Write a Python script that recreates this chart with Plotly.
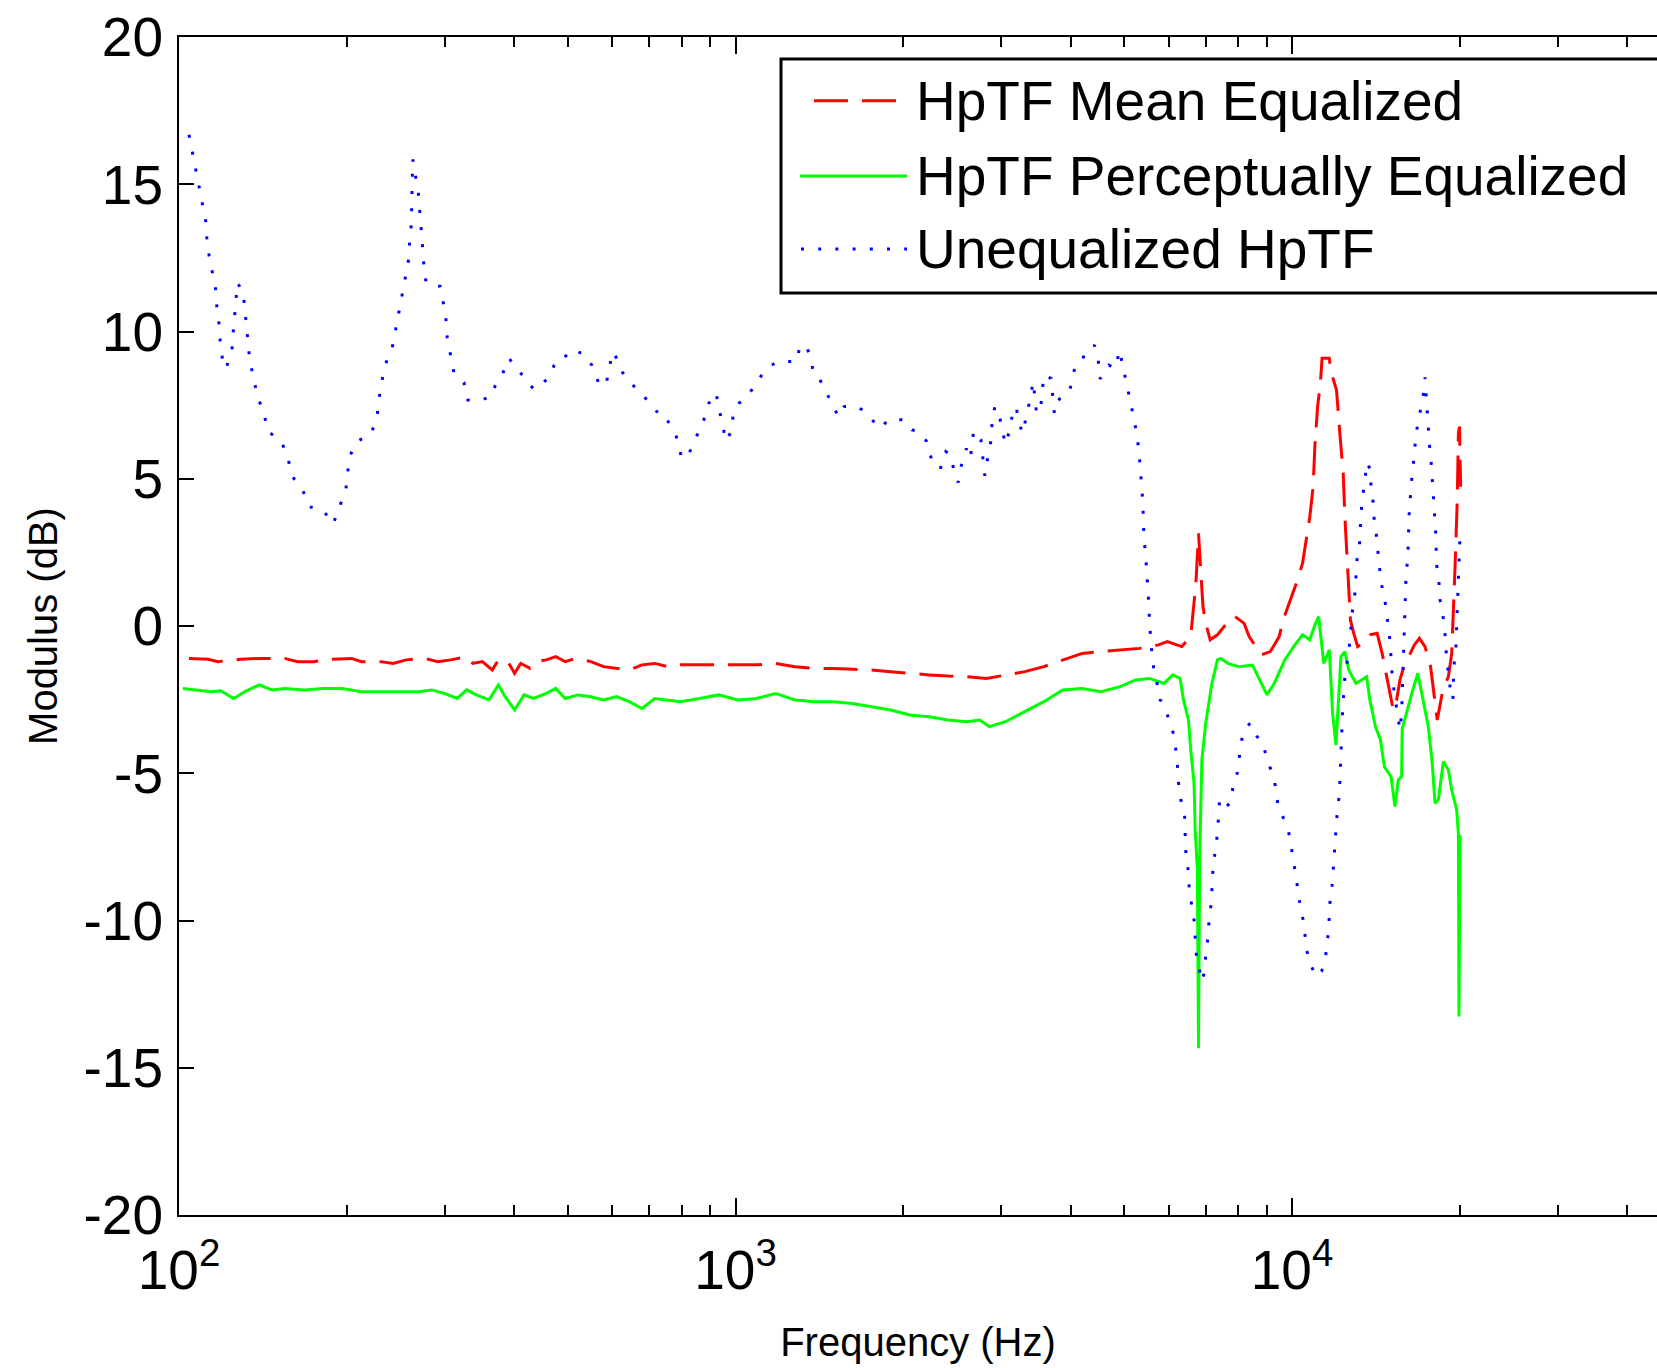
import numpy as np
import plotly.graph_objects as go

# ---------------- data ----------------
# frequencies stored as log10(Hz), converted to Hz below
mean_eq_logf = [2.018, 2.053, 2.070, 2.110, 2.144, 2.190, 2.213, 2.242, 2.276, 2.310, 2.328, 2.362, 2.385, 2.408,
                2.442, 2.465, 2.488, 2.517, 2.528, 2.545, 2.563, 2.574, 2.591, 2.603, 2.614, 2.631, 2.643, 2.660,
                2.677, 2.694, 2.712, 2.740, 2.763, 2.786, 2.809, 2.832, 2.855, 2.878, 2.901, 2.935, 2.970, 3.004,
                3.038, 3.072, 3.107, 3.141, 3.176, 3.210, 3.244, 3.279, 3.313, 3.348, 3.382, 3.416, 3.451, 3.485,
                3.520, 3.554, 3.588, 3.623, 3.657, 3.691, 3.726, 3.760, 3.776, 3.802, 3.818, 3.822, 3.827, 3.832,
                3.837, 3.840, 3.845, 3.853, 3.866, 3.878, 3.896, 3.914, 3.923, 3.933, 3.945, 3.961, 3.977, 3.984,
                4.000, 4.009, 4.019, 4.025, 4.032, 4.038, 4.041, 4.046, 4.051, 4.054, 4.067, 4.070, 4.080, 4.086,
                4.092, 4.095, 4.099, 4.102, 4.105, 4.111, 4.118, 4.127, 4.140, 4.153, 4.162, 4.169, 4.175, 4.182,
                4.188, 4.194, 4.201, 4.210, 4.220, 4.229, 4.239, 4.249, 4.255, 4.261, 4.271, 4.281, 4.287, 4.290,
                4.293, 4.297, 4.299, 4.301, 4.303]
mean_eq_db = [-1.10, -1.13, -1.21, -1.13, -1.10, -1.10, -1.21, -1.21, -1.13, -1.10, -1.21, -1.21, -1.27, -1.15,
              -1.10, -1.21, -1.15, -1.04, -1.27, -1.21, -1.49, -1.15, -1.21, -1.61, -1.27, -1.44, -1.21, -1.15,
              -1.04, -1.21, -1.10, -1.21, -1.38, -1.44, -1.49, -1.32, -1.27, -1.38, -1.32, -1.32, -1.32, -1.32,
              -1.32, -1.27, -1.38, -1.44, -1.44, -1.47, -1.49, -1.55, -1.61, -1.66, -1.70, -1.72, -1.78, -1.66,
              -1.55, -1.38, -1.15, -0.93, -0.87, -0.81, -0.76, -0.64, -0.53, -0.70, -0.36, 0.43, 1.34, 3.15,
              1.68, 0.66, 0.09, -0.47, -0.30, -0.02, 0.34, 0.09, -0.36, -0.64, -0.98, -0.87, -0.36, 0.20,
              1.00, 1.51, 2.13, 2.86, 3.71, 4.73, 6.09, 7.45, 8.24, 9.09, 9.09, 8.64, 8.01, 6.54,
              5.18, 3.71, 2.47, 1.45, 0.20, -0.25, -0.70, -0.59, -0.30, -0.25, -0.93, -1.61, -2.17, -2.85,
              -2.51, -1.83, -1.38, -1.04, -0.64, -0.42, -0.70, -1.38, -2.29, -3.19, -2.17, -1.72, -0.93, 0.32,
              2.02, 4.28, 6.54, 6.77, 4.73]

percep_eq_logf = [2.007, 2.035, 2.058, 2.075, 2.098, 2.121, 2.144, 2.167, 2.190, 2.225, 2.259, 2.293, 2.328, 2.362,
                  2.396, 2.431, 2.454, 2.477, 2.500, 2.517, 2.534, 2.557, 2.574, 2.586, 2.603, 2.620, 2.637, 2.660,
                  2.677, 2.694, 2.717, 2.740, 2.763, 2.786, 2.809, 2.832, 2.855, 2.878, 2.901, 2.935, 2.970, 3.004,
                  3.038, 3.072, 3.107, 3.141, 3.176, 3.210, 3.244, 3.279, 3.313, 3.348, 3.382, 3.416, 3.439, 3.456,
                  3.485, 3.520, 3.554, 3.588, 3.623, 3.657, 3.691, 3.719, 3.744, 3.770, 3.786, 3.799, 3.805, 3.814,
                  3.818, 3.824, 3.826, 3.830, 3.832, 3.834, 3.838, 3.845, 3.856, 3.866, 3.872, 3.885, 3.904, 3.929,
                  3.942, 3.955, 3.968, 3.987, 4.003, 4.019, 4.032, 4.041, 4.048, 4.051, 4.057, 4.067, 4.073, 4.079,
                  4.084, 4.088, 4.095, 4.102, 4.115, 4.124, 4.134, 4.140, 4.150, 4.159, 4.166, 4.178, 4.185, 4.191,
                  4.197, 4.198, 4.207, 4.217, 4.226, 4.236, 4.245, 4.252, 4.257, 4.263, 4.272, 4.281, 4.287, 4.296,
                  4.299, 4.300, 4.301, 4.302]
percep_eq_db = [-2.12, -2.17, -2.23, -2.20, -2.46, -2.20, -2.00, -2.17, -2.12, -2.17, -2.12, -2.12, -2.23, -2.23,
                -2.23, -2.23, -2.17, -2.29, -2.46, -2.17, -2.34, -2.51, -2.00, -2.40, -2.85, -2.34, -2.46, -2.29,
                -2.12, -2.46, -2.34, -2.40, -2.51, -2.40, -2.57, -2.80, -2.46, -2.51, -2.57, -2.46, -2.34, -2.51,
                -2.46, -2.29, -2.51, -2.57, -2.57, -2.63, -2.74, -2.85, -3.02, -3.08, -3.19, -3.25, -3.19, -3.42,
                -3.25, -2.91, -2.57, -2.17, -2.12, -2.23, -2.06, -1.83, -1.78, -1.95, -1.66, -1.78, -2.51, -3.19,
                -4.21, -5.34, -6.92, -8.28, -14.34, -8.00, -4.55, -3.30, -1.95, -1.15, -1.10, -1.27, -1.38, -1.33,
                -1.83, -2.34, -1.95, -1.15, -0.70, -0.30, -0.47, 0.03, 0.32, -0.25, -1.27, -0.81, -2.97, -4.04,
                -2.51, -1.04, -0.87, -1.49, -1.95, -1.83, -1.72, -2.51, -3.42, -3.87, -4.78, -5.12, -6.13, -5.23,
                -5.11, -3.50, -2.85, -2.17, -1.61, -2.63, -3.42, -4.66, -6.02, -5.90, -4.60, -4.89, -5.57, -6.25,
                -7.04, -13.26, -11.30, -7.10]

uneq_logf = [2.018, 2.024, 2.030, 2.036, 2.042, 2.048, 2.050, 2.054, 2.060, 2.066, 2.068, 2.072, 2.074, 2.078,
             2.084, 2.095, 2.097, 2.100, 2.102, 2.105, 2.116, 2.118, 2.122, 2.124, 2.128, 2.135, 2.141, 2.153,
             2.159, 2.184, 2.196, 2.203, 2.222, 2.234, 2.259, 2.277, 2.289, 2.300, 2.303, 2.308, 2.320, 2.345,
             2.356, 2.359, 2.364, 2.370, 2.383, 2.389, 2.395, 2.401, 2.407, 2.412, 2.414, 2.417, 2.418, 2.419,
             2.4195, 2.420, 2.426, 2.431, 2.433, 2.436, 2.438, 2.440, 2.444, 2.456, 2.469, 2.475, 2.480, 2.482,
             2.488, 2.494, 2.512, 2.519, 2.543, 2.562, 2.568, 2.580, 2.593, 2.606, 2.624, 2.637, 2.649, 2.667,
             2.674, 2.686, 2.692, 2.704, 2.717, 2.730, 2.742, 2.754, 2.767, 2.773, 2.779, 2.791, 2.797, 2.822,
             2.828, 2.848, 2.861, 2.870, 2.889, 2.897, 2.903, 2.915, 2.927, 2.934, 2.943, 2.952, 2.965, 2.971,
             2.977, 2.983, 2.993, 2.996, 3.006, 3.021, 3.034, 3.053, 3.065, 3.078, 3.084, 3.110, 3.116, 3.129,
             3.135, 3.141, 3.151, 3.160, 3.166, 3.176, 3.185, 3.195, 3.214, 3.226, 3.239, 3.261, 3.274, 3.286,
             3.299, 3.305, 3.317, 3.328, 3.343, 3.352, 3.368, 3.378, 3.387, 3.393, 3.400, 3.406, 3.415, 3.422,
             3.428, 3.441, 3.448, 3.453, 3.459, 3.461, 3.466, 3.472, 3.478, 3.485, 3.491, 3.497, 3.504, 3.510,
             3.516, 3.523, 3.529, 3.535, 3.541, 3.548, 3.554, 3.567, 3.573, 3.577, 3.589, 3.601, 3.608, 3.614,
             3.620, 3.633, 3.645, 3.652, 3.655, 3.671, 3.683, 3.690, 3.696, 3.702, 3.709, 3.715, 3.721, 3.725,
             3.728, 3.730, 3.732, 3.733, 3.734, 3.737, 3.739, 3.742, 3.743, 3.744, 3.746, 3.749, 3.752, 3.757,
             3.763, 3.772, 3.781, 3.786, 3.790, 3.794, 3.796, 3.800, 3.807, 3.808, 3.809, 3.813, 3.815, 3.819,
             3.824, 3.826, 3.828, 3.832, 3.838, 3.843, 3.845, 3.849, 3.851, 3.855, 3.856, 3.858, 3.862, 3.866,
             3.868, 3.870, 3.881, 3.891, 3.894, 3.899, 3.904, 3.907, 3.913, 3.925, 3.937, 3.948, 3.955, 3.966,
             3.971, 3.975, 3.990, 3.998, 4.001, 4.008, 4.011, 4.017, 4.023, 4.026, 4.035, 4.043, 4.053, 4.060,
             4.062, 4.066, 4.067, 4.069, 4.072, 4.074, 4.077, 4.079, 4.080, 4.082, 4.085, 4.086, 4.087, 4.089,
             4.090, 4.091, 4.093, 4.095, 4.100, 4.104, 4.108, 4.113, 4.115, 4.117, 4.121, 4.122, 4.124, 4.127,
             4.131, 4.135, 4.140, 4.142, 4.146, 4.148, 4.153, 4.155, 4.161, 4.166, 4.170, 4.172, 4.176, 4.178,
             4.180, 4.184, 4.190, 4.194, 4.197, 4.198, 4.199, 4.200, 4.201, 4.202, 4.203, 4.204, 4.205, 4.208,
             4.209, 4.210, 4.211, 4.214, 4.216, 4.220, 4.222, 4.228, 4.235, 4.239, 4.241, 4.243, 4.245, 4.247,
             4.250, 4.252, 4.255, 4.257, 4.258, 4.259, 4.260, 4.264, 4.266, 4.270, 4.272, 4.274, 4.276, 4.278,
             4.283, 4.285, 4.289, 4.290, 4.291, 4.294, 4.295, 4.296, 4.297, 4.298, 4.300, 4.301, 4.302]
uneq_db = [16.68, 16.09, 15.51, 14.92, 14.34, 13.75, 13.17, 12.59, 12.00, 11.42, 10.83, 10.24, 9.67, 9.08,
           8.73, 9.30, 9.89, 10.48, 11.07, 11.66, 11.30, 10.72, 10.13, 9.54, 8.96, 8.37, 7.79, 7.21,
           6.62, 6.27, 5.68, 5.09, 4.63, 4.05, 3.93, 3.46, 4.05, 4.64, 5.22, 5.81, 6.27, 6.51,
           7.10, 7.67, 8.26, 8.85, 9.43, 10.02, 10.60, 11.18, 11.77, 12.36, 12.94, 13.52, 14.11, 14.69,
           15.28, 15.85, 15.17, 14.58, 14.00, 13.41, 12.82, 12.23, 11.66, 11.54, 11.54, 10.96, 10.37, 9.78,
           9.19, 8.61, 8.26, 7.67, 7.67, 7.80, 8.15, 8.50, 9.09, 8.74, 8.39, 8.04, 8.15, 8.50,
           8.85, 9.09, 9.20, 9.09, 9.31, 9.20, 8.85, 8.26, 8.15, 8.74, 9.31, 8.96, 8.61, 8.04,
           7.91, 7.56, 7.22, 7.22, 6.63, 6.28, 5.69, 5.81, 6.28, 6.63, 7.00, 7.56, 7.92, 7.33,
           6.75, 6.28, 6.63, 7.22, 7.56, 7.79, 8.15, 8.69, 8.86, 8.98, 8.98, 8.98, 9.54, 9.43,
           9.09, 8.52, 8.39, 8.04, 7.79, 7.45, 7.11, 7.45, 7.47, 7.36, 7.11, 6.71, 7.00, 7.00,
           7.00, 6.97, 6.66, 6.62, 6.28, 5.67, 5.33, 5.92, 5.81, 5.22, 4.87, 5.47, 6.03, 5.69,
           6.63, 6.32, 5.10, 5.69, 6.28, 6.88, 7.45, 7.33, 6.77, 6.17, 6.54, 7.11, 7.45, 6.88,
           6.54, 7.11, 7.67, 8.30, 7.22, 7.33, 8.52, 8.41, 7.22, 7.56, 7.90, 8.02, 8.64, 8.98,
           9.09, 9.20, 9.54, 8.98, 8.39, 8.86, 8.75, 9.37, 8.86, 8.30, 7.67, 7.11, 6.54, 5.92,
           5.35, 4.73, 4.17, 3.60, 2.98, 2.41, 1.85, 1.22, 0.66, 0.09, -0.53, -1.10, -1.50, -1.90,
           -2.50, -2.79, -3.30, -3.60, -4.00, -4.70, -5.30, -5.88, -6.47, -7.06, -7.64, -8.23, -8.81, -9.39,
           -9.98, -10.57, -11.15, -11.51, -12.07, -11.73, -11.15, -10.57, -9.98, -9.39, -8.81, -8.23, -7.64, -7.06,
           -6.47, -5.88, -6.13, -6.00, -5.40, -5.28, -4.72, -4.13, -3.55, -3.30, -3.75, -3.98, -4.55, -5.06,
           -5.51, -6.13, -6.75, -7.29, -7.89, -8.51, -9.17, -9.60, -10.43, -11.00, -11.56, -11.90, -11.73, -11.40,
           -10.81, -10.38, -9.75, -9.17, -8.81, -8.23, -7.64, -7.06, -6.47, -6.13, -5.77, -5.19, -4.60, -4.02,
           -3.44, -2.85, -2.29, -1.72, -1.10, -0.53, 0.43, 1.11, 1.70, 2.30, 2.64, 3.26, 3.83, 4.39,
           4.99, 5.56, 5.33, 4.77, 4.17, 3.49, 2.92, 2.36, 1.39, 1.00, 0.43, 0.09, -0.48, -1.10,
           -1.66, -2.29, -2.97, -3.53, -2.97, -2.34, -1.78, -1.21, -0.62, -0.02, 0.54, 1.17, 1.73, 2.30,
           2.92, 3.49, 4.05, 4.64, 5.22, 5.81, 6.40, 7.09, 7.67, 8.44, 7.79, 7.11, 6.71, 6.15,
           5.56, 4.99, 4.40, 3.83, 3.26, 2.64, 2.07, 1.51, 0.88, 0.54, 0.26, -0.06, -0.50, -1.21,
           -1.78, -2.40, -2.51, -1.89, -1.32, -0.98, -0.38, 0.20, 0.79, 1.36, 1.96, 2.52, 3.11]

series_names = ["HpTF Mean Equalized", "HpTF Perceptually Equalized", "Unequalized HpTF"]
x_major_ticks = [100, 1000, 10000]
x_major_labels = ["10<sup>2</sup>", "10<sup>3</sup>", "10<sup>4</sup>"]
x_minor_ticks = [200, 300, 400, 500, 600, 700, 800, 900,
                 2000, 3000, 4000, 5000, 6000, 7000, 8000, 9000,
                 20000, 30000, 40000]
y_ticks = [-20, -15, -10, -5, 0, 5, 10, 15, 20]
y_labels = ["-20", "-15", "-10", "-5", "0", "5", "10", "15", "20"]

# ---------------- figure ----------------
W, H = 1657, 1368
ML, MR, MT, MB = 179, 0, 37, 153
PW, PH = W - ML - MR, H - MT - MB
FONT = "Liberation Sans, Arial, Helvetica, sans-serif"

RED, GREEN, BLUE = "#ff0000", "#00ff00", "#0000ff"
red_dash = "34px,14px"
blue_dot = "3px,14.2px"

fig = go.Figure()
fig.add_trace(go.Scatter(x=10 ** np.array(mean_eq_logf), y=mean_eq_db, mode="lines",
                         name=series_names[0], line=dict(color=RED, width=3, dash=red_dash),
                         showlegend=False))
fig.add_trace(go.Scatter(x=10 ** np.array(percep_eq_logf), y=percep_eq_db, mode="lines",
                         name=series_names[1], line=dict(color=GREEN, width=3),
                         showlegend=False))
fig.add_trace(go.Scatter(x=10 ** np.array(uneq_logf), y=uneq_db, mode="lines",
                         name=series_names[2], line=dict(color=BLUE, width=3, dash=blue_dot),
                         showlegend=False))


def px_x(px):
    return (px - ML) / PW


def px_y(py):
    return (H - MB - py) / PH


# legend box (MATLAB style, extends past the right edge)
shapes = [dict(type="rect", xref="paper", yref="paper", x0=px_x(781), x1=px_x(1700),
               y0=px_y(293), y1=px_y(59), line=dict(color="black", width=3),
               fillcolor="white", layer="above")]
legend_rows = [(px_y(100.7), RED, red_dash, 814, 897, 3),
               (px_y(176), GREEN, "solid", 800, 907, 3),
               (px_y(249), BLUE, blue_dot, 801, 907, 3)]
annotations = []
for (yy, col, dsh, xa, xb, lw), name in zip(legend_rows, series_names):
    shapes.append(dict(type="line", xref="paper", yref="paper", x0=px_x(xa), x1=px_x(xb),
                       y0=yy, y1=yy, line=dict(color=col, width=lw, dash=dsh), layer="above"))
    annotations.append(dict(xref="paper", yref="paper", x=px_x(914), y=yy, xanchor="left",
                            yanchor="middle", text=name, showarrow=False,
                            font=dict(family=FONT, size=55, color="black")))

fig.update_layout(
    width=W, height=H,
    margin=dict(l=ML, r=MR, t=MT, b=MB, autoexpand=False),
    paper_bgcolor="white", plot_bgcolor="white",
    font=dict(family=FONT, color="black"),
    shapes=shapes, annotations=annotations,
    showlegend=False,
)
fig.update_xaxes(
    type="log", range=[2, 2 + PW / 556.5],
    tickmode="array", tickvals=x_major_ticks, ticktext=x_major_labels,
    tickfont=dict(family=FONT, size=55, color="black"),
    ticks="inside", ticklen=17, tickwidth=2, tickcolor="black",
    minor=dict(tickmode="array", tickvals=x_minor_ticks, ticks="inside", ticklen=10,
               tickwidth=2, tickcolor="black", showgrid=False),
    showline=True, linecolor="black", linewidth=2, mirror="ticks",
    showgrid=False, zeroline=False,
    ticklabelstandoff=6,
    title=dict(text="Frequency (Hz)", font=dict(family=FONT, size=40, color="black"), standoff=28),
)
fig.update_yaxes(
    range=[-20, 20],
    tickmode="array", tickvals=y_ticks, ticktext=y_labels,
    tickfont=dict(family=FONT, size=55, color="black"),
    ticks="inside", ticklen=15, tickwidth=2, tickcolor="black",
    showline=True, linecolor="black", linewidth=2, mirror=False,
    showgrid=False, zeroline=False,
    ticklabelstandoff=3,
    title=dict(text="Modulus (dB)", font=dict(family=FONT, size=40, color="black"), standoff=14),
)

fig.write_html("out.html")
